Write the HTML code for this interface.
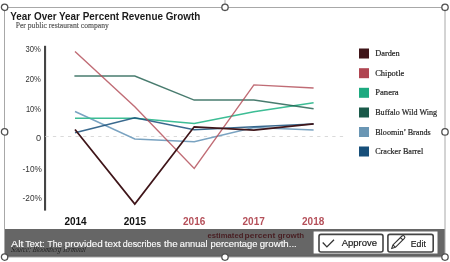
<!DOCTYPE html>
<html><head><meta charset="utf-8">
<style>
html,body{margin:0;padding:0;background:#fff;width:450px;height:262px;overflow:hidden}
svg{position:absolute;left:0;top:0;display:block;will-change:transform}
.sans{font-family:"Liberation Sans",sans-serif}
.serif{font-family:"Liberation Serif",serif}
</style></head>
<body>
<svg width="450" height="262" viewBox="0 0 450 262">
  <rect x="0" y="0" width="450" height="262" fill="#fff"/>
  <!-- title -->
  <text class="sans" x="10.3" y="20.2" font-size="11" font-weight="bold" fill="#1b1b1b" textLength="190" lengthAdjust="spacingAndGlyphs">Year Over Year Percent Revenue Growth</text>
  <text class="serif" x="15.7" y="27.6" font-size="7.5" fill="#555" stroke="#555" stroke-width="0.15" textLength="93.2" lengthAdjust="spacingAndGlyphs">Per public restaurant company</text>

  <!-- y axis labels -->
  <g class="sans" font-size="9.2" fill="#333" text-anchor="end">
    <text x="40.9" y="52.2" textLength="15.3" lengthAdjust="spacingAndGlyphs">30%</text>
    <text x="40.9" y="82.1" textLength="15.3" lengthAdjust="spacingAndGlyphs">20%</text>
    <text x="40.9" y="112" textLength="15" lengthAdjust="spacingAndGlyphs">10%</text>
    <text x="41.2" y="141.3">0</text>
    <text x="41.9" y="171.6" textLength="19.3" lengthAdjust="spacingAndGlyphs">-10%</text>
    <text x="41.9" y="201.3" textLength="19.3" lengthAdjust="spacingAndGlyphs">-20%</text>
  </g>
  <rect x="44" y="45.8" width="2.1" height="164.8" fill="#454545"/>
  <line x1="45.35" y1="136.5" x2="343.5" y2="136.5" stroke="#dadada" stroke-width="1" stroke-dasharray="3.3 4.25"/>

  <!-- series -->
  <g fill="none" stroke-linejoin="miter" stroke-linecap="butt">
    <polyline stroke="#7aa3c1" stroke-width="1.5" points="75,111.5 134.8,139 194.2,141.8 253.9,127.5 313.6,130"/>
    <polyline stroke="#3dbd95" stroke-width="1.5" points="75,118.2 134.8,118.2 194.2,123.4 253.9,111.7 313.6,102.7"/>
    <polyline stroke="#1a5a4a" stroke-width="1.5" opacity="0.8" points="74.4,76.1 134.8,76.1 194.2,100.1 253.9,100 313.6,108.8"/>
    <polyline stroke="#174f7a" stroke-width="1.5" opacity="0.85" points="75,132.8 134.8,117.7 194.2,129.8 253.9,126.8 313.6,124"/>
    <polyline stroke="#b24c57" stroke-width="1.4" opacity="0.82" points="75,51.5 134.8,106.7 194.2,168.4 253.9,84.9 313.6,88"/>
    <polyline stroke="#3f1519" stroke-width="1.75" points="75,129.5 134.8,204.1 194.2,126.8 253.9,130 313.6,123.8"/>
  </g>

  <!-- x labels -->
  <g class="sans" font-size="10" font-weight="bold" text-anchor="middle">
    <text x="75.5" y="224.5" fill="#111">2014</text>
    <text x="134.9" y="224.5" fill="#111">2015</text>
    <text x="194.2" y="224.5" fill="#b5505a">2016</text>
    <text x="253.7" y="224.5" fill="#b5505a">2017</text>
    <text x="313.2" y="224.5" fill="#b5505a">2018</text>
  </g>
  <g class="sans" font-size="7.4" font-weight="bold" fill="#b5505a"><text x="207.4" y="237.6" textLength="36.0" lengthAdjust="spacingAndGlyphs">estimated</text><text x="244.6" y="237.6" textLength="30.7" lengthAdjust="spacingAndGlyphs">percent</text><text x="277.8" y="237.6" textLength="26.3" lengthAdjust="spacingAndGlyphs">growth</text></g>
  <text class="serif" transform="translate(10.8 252) skewX(-12) translate(-10.8 -252)" x="10.8" y="252" font-size="8.4" font-style="italic" fill="#555" textLength="74.5" lengthAdjust="spacingAndGlyphs">Source: Bloomberg Terminal</text>

  <!-- legend -->
  <g>
    <rect x="359" y="48.5" width="10" height="10" fill="#3f1519"/>
    <rect x="359" y="68.2" width="10" height="10" fill="#b04551"/>
    <rect x="359" y="87.8" width="10" height="10" fill="#1daa80"/>
    <rect x="359" y="107.5" width="10" height="10" fill="#1a5a4a"/>
    <rect x="359" y="127" width="10" height="10" fill="#6a96b4"/>
    <rect x="359" y="146.5" width="10" height="10" fill="#174f7a"/>
  </g>
  <g class="serif" font-size="8.9" fill="#222" stroke="#222" stroke-width="0.2">
    <text x="375.2" y="55.9" textLength="24.5" lengthAdjust="spacingAndGlyphs">Darden</text>
    <text x="375.2" y="75.6" textLength="29.1" lengthAdjust="spacingAndGlyphs">Chipotle</text>
    <text x="375.2" y="95.3" textLength="23.5" lengthAdjust="spacingAndGlyphs">Panera</text>
    <text x="375.2" y="115" textLength="61.9" lengthAdjust="spacingAndGlyphs">Buffalo Wild Wing</text>
    <text x="375.2" y="134.7" textLength="55.5" lengthAdjust="spacingAndGlyphs">Bloomin’ Brands</text>
    <text x="375.2" y="154.4" textLength="48" lengthAdjust="spacingAndGlyphs">Cracker Barrel</text>
  </g>

  <!-- overlay bar -->
  <rect x="4" y="229" width="441" height="28" fill="#000" fill-opacity="0.6"/>
  <g class="sans" font-size="9.2" fill="#fff" stroke="#fff" stroke-width="0.12"><text x="11.1" y="247" textLength="12.4" lengthAdjust="spacingAndGlyphs">Alt</text><text x="25.2" y="247" textLength="19.3" lengthAdjust="spacingAndGlyphs">Text:</text><text x="47.5" y="247" textLength="14.7" lengthAdjust="spacingAndGlyphs">The</text><text x="64.8" y="247" textLength="38.0" lengthAdjust="spacingAndGlyphs">provided</text><text x="104.8" y="247" textLength="16.0" lengthAdjust="spacingAndGlyphs">text</text><text x="122.7" y="247" textLength="38.3" lengthAdjust="spacingAndGlyphs">describes</text><text x="164.1" y="247" textLength="13.7" lengthAdjust="spacingAndGlyphs">the</text><text x="179.8" y="247" textLength="27.7" lengthAdjust="spacingAndGlyphs">annual</text><text x="210.5" y="247" textLength="47.0" lengthAdjust="spacingAndGlyphs">percentage</text><text x="259.7" y="247" textLength="37.1" lengthAdjust="spacingAndGlyphs">growth...</text></g>
  <rect x="313.6" y="231.5" width="123.9" height="22" fill="#fff"/>
  <rect x="319" y="234.4" width="64" height="17.6" rx="2" fill="#fff" stroke="#444" stroke-width="1.6"/>
  <polyline points="322.7,242.5 326.9,246.9 334,239.7" fill="none" stroke="#333" stroke-width="1.3"/>
  <text class="sans" x="341.7" y="246.4" font-size="9.3" fill="#1a1a1a" stroke="#1a1a1a" stroke-width="0.18" textLength="35.4" lengthAdjust="spacingAndGlyphs">Approve</text>
  <rect x="387.9" y="234.4" width="45.3" height="17.6" rx="2" fill="#fff" stroke="#444" stroke-width="1.6"/>
  <g fill="none" stroke="#333" stroke-width="1.1" stroke-linejoin="round">
    <path d="M391.6,248.6 L392.98,244.87 L402.01,235.99 A1.7,1.7 0 0 1 404.39,238.41 L395.36,247.29 Z M400.44,237.53 L402.82,239.95 M392.98,244.87 L395.36,247.29"/>
  </g>
  <text class="sans" x="410.8" y="246.6" font-size="9.4" fill="#1a1a1a" stroke="#1a1a1a" stroke-width="0.18" textLength="15" lengthAdjust="spacingAndGlyphs">Edit</text>

  <rect x="4" y="255.7" width="441" height="1.4" fill="#000" fill-opacity="0.15"/>
  <!-- selection frame -->
  <rect x="4.5" y="7.5" width="440.5" height="249.5" fill="none" stroke="#a8a8a8" stroke-width="1"/>
  <line x1="225" y1="0" x2="225" y2="4" stroke="#a8a8a8" stroke-width="1"/>
  <g fill="#fff" stroke="#505050" stroke-width="1.3">
    <circle cx="4.6" cy="7.3" r="3.2"/>
    <circle cx="225" cy="7.3" r="3.2"/>
    <circle cx="445" cy="7.3" r="3.2"/>
    <circle cx="4.6" cy="131.9" r="3.2"/>
    <circle cx="445" cy="131.9" r="3.2"/>
    <circle cx="4.6" cy="257.1" r="3.2"/>
    <circle cx="225" cy="257.1" r="3.2"/>
    <circle cx="445" cy="257.1" r="3.2"/>
  </g>
</svg>
</body></html>
